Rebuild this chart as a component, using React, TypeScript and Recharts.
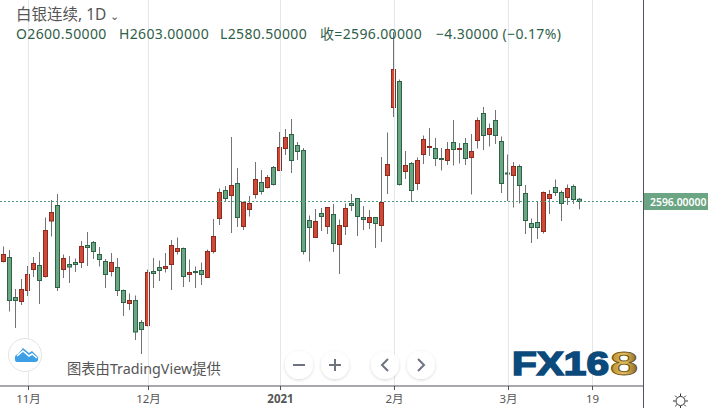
import React from "react";
import { ComposedChart, Bar, XAxis, YAxis, ReferenceLine } from "recharts";

const highs = [2506,2499,2421,2441,2467,2485,2495,2564,2599,2611,2490,2487,2482,2517,2535,2517,2505,2481,2493,2483,2420,2412,2408,2359,2460,2483,2478,2493,2519,2524,2504,2480,2466,2474,2500,2561,2622,2627,2725,2663,2596,2607,2675,2659,2649,2667,2735,2741,2761,2715,2703,2568,2581,2583,2585,2591,2560,2592,2611,2603,2587,2579,2565,2685,2734,2935,2840,2697,2675,2684,2728,2743,2723,2703,2715,2759,2713,2723,2731,2764,2785,2752,2779,2726,2690,2675,2670,2629,2562,2596,2616,2619,2640,2618,2630,2630,2603];
const lows = [2474,2376,2343,2389,2407,2445,2391,2444,2526,2417,2443,2433,2455,2463,2467,2481,2466,2423,2446,2407,2367,2379,2319,2291,2346,2423,2437,2454,2419,2490,2425,2435,2423,2429,2443,2492,2549,2595,2533,2545,2539,2566,2602,2610,2622,2628,2658,2689,2653,2679,2490,2476,2524,2537,2531,2495,2451,2529,2577,2527,2539,2541,2503,2515,2611,2765,2628,2641,2595,2619,2671,2687,2667,2658,2669,2668,2672,2669,2610,2702,2699,2706,2711,2613,2597,2584,2592,2531,2513,2521,2532,2571,2607,2557,2589,2591,2580.5];
const opens = [2476,2484,2404,2396,2418,2460,2468,2446,2557,2588,2460,2470,2474,2474,2508,2514,2490,2476,2456,2464,2418,2392,2398,2354,2348,2456,2464,2462,2470,2496,2502,2450,2456,2458,2444,2496,2562,2618,2608,2632,2546,2580,2610,2634,2624,2664,2658,2702,2730,2708,2698,2558,2524,2572,2546,2570,2510,2546,2592,2602,2564,2554,2564,2548,2648,2784,2836,2656,2672,2632,2690,2704,2702,2682,2678,2714,2700,2712,2684,2718,2772,2730,2758,2716,2653,2648,2666,2612,2552,2554,2536,2602,2624,2614,2604,2626,2600.5];
const closes = [2490,2398,2398,2420,2450,2472,2438,2538,2574,2424,2482,2465,2470,2506,2504,2496,2480,2450,2474,2418,2394,2398,2335,2340,2454,2452,2458,2466,2508,2502,2446,2454,2454,2450,2496,2526,2614,2602,2628,2564,2594,2592,2640,2616,2644,2630,2704,2724,2678,2696,2496,2544,2556,2566,2584,2512,2548,2582,2588,2566,2560,2564,2552,2594,2670,2860,2630,2668,2618,2678,2720,2706,2682,2680,2700,2700,2702,2682,2696,2758,2728,2742,2728,2632,2652,2666,2628,2558,2544,2544,2614,2610,2614,2592,2622,2600,2596];

const tickIndexes = [4, 24, 46, 65, 84, 98];
const tickLabels = ["11月", "12月", "2021", "2月", "3月", "19"];
const lastPrice = 2596;
const lastPriceLabel = "2596.00000";
const title = "白银连续, 1D";
const ohlcTexts = ["O2600.50000", "H2603.00000", "L2580.50000", "收=2596.00000", "−4.30000 (−0.17%)"];
const ohlcLefts = [16, 119, 220, 320, 436];
const creditText = "图表由TradingView提供";

const candles = opens.map((open, i) => ({ i, open, high: highs[i], low: lows[i], close: closes[i] }));
const gridOffset = 1 / 6;
const tickPositions = tickIndexes.map((t) => t + gridOffset);
const labelOf = (v: number) => tickLabels[tickPositions.findIndex((p) => Math.abs(p - v) < 0.01)];

const RED = "#cf4a36";
const RED_DARK = "#8a2a20";
const GREEN = "#6ba583";
const GREEN_DARK = "#2b6347";
const WICK = "#737373";
const GRID = "#e3e8ec";
const AXIS = "#50535e";
const UI = "Noto Sans, Noto Sans CJK SC, sans-serif";

function Candle(props: any) {
  const { x, width, y, height, payload } = props;
  const { open, close, high, low } = payload;
  const cx = Math.round(x + width / 2 - 0.5) + 0.5;
  const k = height / (high - low);
  const top = y + (high - Math.max(open, close)) * k;
  const h = Math.max(Math.abs(open - close) * k, 1);
  const up = close >= open;
  return (
    <g>
      <line x1={cx} x2={cx} y1={y} y2={y + height} stroke={WICK} strokeWidth={1} />
      <rect x={cx - 2} y={top} width={4} height={h} fill={up ? RED : GREEN} stroke={up ? RED_DARK : GREEN_DARK} strokeWidth={1} />
    </g>
  );
}

function AxisTick(props: any) {
  const { x, y, payload } = props;
  const label = labelOf(payload.value);
  return (
    <text x={x} y={y + 11} textAnchor="middle" fontFamily={UI} fontSize={11.5} fill="#555" fontWeight={label === "2021" ? 700 : 400}>
      {label}
    </text>
  );
}

const btn = [
  { cx: 299, kind: "minus" },
  { cx: 335, kind: "plus" },
  { cx: 385, kind: "left" },
  { cx: 421, kind: "right" },
];

function Overlay() {
  return (
    <svg width={708} height={408} style={{ position: "absolute", left: 0, top: 0, pointerEvents: "none" }}>
      <defs>
        <linearGradient id="gold" x1="0" x2="1" y1="0" y2="0">
          <stop offset="0" stopColor="#b98a2a" />
          <stop offset="0.5" stopColor="#e2c163" />
          <stop offset="1" stopColor="#8a6418" />
        </linearGradient>
        <filter id="sh" x="-30%" y="-30%" width="160%" height="160%">
          <feDropShadow dx="0" dy="1" stdDeviation="1.5" floodColor="#000" floodOpacity="0.16" />
        </filter>
      </defs>
      <line x1={643.5} x2={643.5} y1={0} y2={408} stroke={AXIS} />
      <rect x={644} y={193} width={64} height={17} fill={GREEN} />
      <text x={650} y={205.5} fontFamily={UI} fontSize={10.4} fontWeight={600} fill="#fff">{lastPriceLabel}</text>
      <circle cx={25} cy={355} r={16.5} fill="#fff" stroke="#e4e4e4" />
      <path d="M15 360 q-1 -5 3 -6 l5 -6 l6 5 l3 -2 l6 6 q1 5 -3 5 h-17 q-3 0 -3 -2z" fill="#3d9fe6" />
      <path d="M17 356 l6 -5 l6 5 l3 -2 l5 4" fill="none" stroke="#fff" strokeWidth={1.6} />
      {btn.map((b) => (
        <g key={b.kind}>
          <circle cx={b.cx} cy={365} r={14} fill="#fff" filter="url(#sh)" />
          {b.kind === "minus" && <line x1={b.cx - 6} x2={b.cx + 6} y1={365} y2={365} stroke="#6d7480" strokeWidth={2} />}
          {b.kind === "plus" && <path d={`M${b.cx - 6} 365 h12 M${b.cx} 359 v12`} stroke="#6d7480" strokeWidth={2} fill="none" />}
          {b.kind === "left" && <path d={`M${b.cx + 3} 359 l-6 6 l6 6`} stroke="#6d7480" strokeWidth={2} fill="none" />}
          {b.kind === "right" && <path d={`M${b.cx - 3} 359 l6 6 l-6 6`} stroke="#6d7480" strokeWidth={2} fill="none" />}
        </g>
      ))}
      <text x={512} y={375} fontFamily="Liberation Sans, sans-serif" fontWeight={700} fontSize={33} textLength={97} lengthAdjust="spacingAndGlyphs" fill="#0c4a7c" stroke="#0c4a7c" strokeWidth={1.6}>FX16</text>
      <text x={610} y={375} fontFamily="Liberation Sans, sans-serif" fontWeight={700} fontSize={33} textLength={28} lengthAdjust="spacingAndGlyphs" fill="url(#gold)" stroke="#6d4e12" strokeWidth={0.8}>8</text>
      <circle cx={680.5} cy={401} r={4.5} fill="none" stroke="#333" />
      <path d="M680.5 393.5v2.5M680.5 406v2.5M673 401h2.5M685.5 401h2.5M675.2 395.7l1.8 1.8M684 404.5l1.8 1.8M685.8 395.7l-1.8 1.8M677 404.5l-1.8 1.8" stroke="#333" fill="none" />
    </svg>
  );
}

const textStyle = (left: number, top: number, size: number, color: string, spacing = 0): React.CSSProperties => ({
  position: "absolute", left, top, fontFamily: UI, fontSize: size, color, lineHeight: "18px", whiteSpace: "nowrap", letterSpacing: spacing,
});

export default function App() {
  return (
    <div style={{ position: "absolute", left: 0, top: 0, width: 708, height: 408, background: "#fff", overflow: "hidden" }}>
      <ComposedChart width={708} height={408} data={candles} margin={{ top: 0, right: 65, bottom: 0, left: 0 }}>
        <XAxis
          dataKey="i"
          type="number"
          domain={[-3.5 / 6, -3.5 / 6 + 643 / 6]}
          ticks={tickPositions}
          interval={0}
          height={22}
          tick={<AxisTick />}
          tickLine={{ stroke: AXIS }}
          tickSize={4}
          axisLine={{ stroke: AXIS }}
          allowDataOverflow
        />
        <YAxis hide type="number" domain={[2227, 2999]} allowDataOverflow />
        {tickPositions.map((t) => (
          <ReferenceLine key={t} x={t} stroke={GRID} strokeWidth={1} />
        ))}
        <ReferenceLine y={lastPrice} stroke="#4f9a78" strokeDasharray="2 2" strokeWidth={1} />
        <Bar dataKey={(d: any) => [d.low, d.high]} barSize={5} shape={<Candle />} isAnimationActive={false} />
      </ComposedChart>
      <Overlay />
      <div style={textStyle(16, 4.5, 15.5, "#555")}>{title} <span style={{ fontSize: 11 }}>⌄</span></div>
      {ohlcTexts.map((t, i) => (
        <div key={t} style={textStyle(ohlcLefts[i], 25, 14, "#2f5e48", 0.35)}>{t}</div>
      ))}
      <div style={textStyle(67, 360, 14.3, "#555")}>{creditText}</div>
    </div>
  );
}
